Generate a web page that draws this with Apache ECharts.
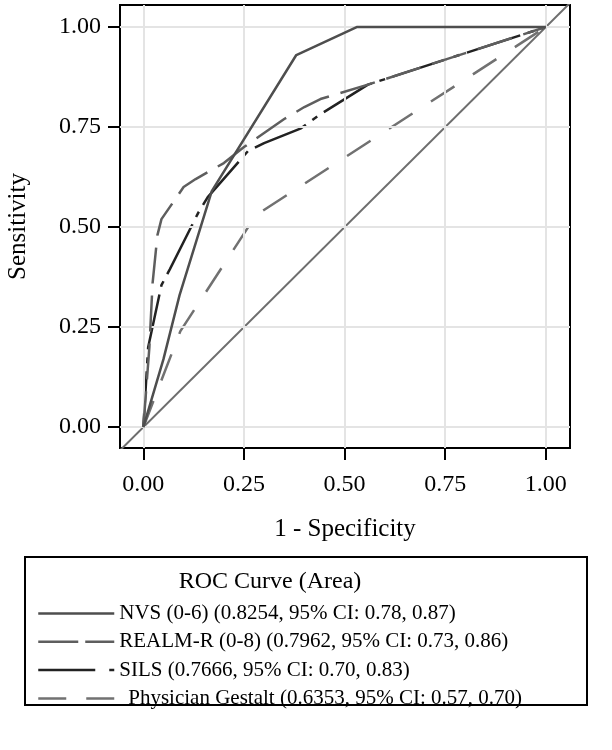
<!DOCTYPE html>
<html>
<head>
<meta charset="utf-8">
<script src="https://cdn.jsdelivr.net/npm/echarts@6/dist/echarts.min.js"></script>
<style>html,body{margin:0;padding:0;background:#fff}#c{width:612px;height:750px}</style>
</head>
<body>
<div id="c"></div>
<script>
var FONT = "'Liberation Serif','Times New Roman',serif";
var tickValues = [0, 0.25, 0.5, 0.75, 1];
var nvs = [[0,0],[0.05,0.17],[0.09,0.33],[0.17,0.59],[0.38,0.93],[0.53,1.0],[1,1]];
var realm = [[0,0],[0.015,0.2],[0.023,0.36],[0.035,0.48],[0.045,0.52],[0.1,0.6],[0.13,0.62],[0.2,0.66],[0.25,0.7],[0.35,0.77],[0.4,0.8],[0.44,0.82],[0.558,0.856],[1,1]];
var sils = [[0,0],[0.012,0.2],[0.045,0.355],[0.066,0.395],[0.136,0.535],[0.16,0.575],[0.26,0.69],[0.3,0.71],[0.39,0.746],[0.443,0.784],[0.558,0.856],[1,1]];
var gestalt = [[0,0],[0.092,0.24],[0.28,0.53],[1,1]];
var diagonal = [[-0.06,-0.06],[1.06,1.06]];
var names = ['NVS (0-6) (0.8254, 95% CI: 0.78, 0.87)','REALM-R (0-8) (0.7962, 95% CI: 0.73, 0.86)','SILS (0.7666, 95% CI: 0.70, 0.83)','Physician Gestalt (0.6353, 95% CI: 0.57, 0.70)'];
var colors = ['#4e4e4e','#5e5e5e','#222222','#717171'];
var dashes = ['solid',[36,12],[56,8,6,8],[28,22]];
var legendDashes = ['solid',[40,7],[57,14,5,20],[28,20]];

var chart = echarts.init(document.getElementById('c'));
var gridLines = [];
tickValues.forEach(function(v){ gridLines.push({xAxis:v}); gridLines.push({yAxis:v}); });

function axisCommon(){
  return {
    type:'value',
    axisLine:{show:true,onZero:false,lineStyle:{color:'#000',width:2}},
    axisTick:{show:true,length:12,lineStyle:{color:'#000',width:2},customValues:tickValues},
    axisLabel:{color:'#000',fontFamily:FONT,fontSize:24,customValues:tickValues,formatter:function(v){return v.toFixed(2);}},
    splitLine:{show:false},
    nameTextStyle:{color:'#000',fontFamily:FONT,fontSize:25}
  };
}
var xa = axisCommon();
xa.min=-0.058; xa.max=1.06; xa.name='1 - Specificity'; xa.nameLocation='middle'; xa.nameGap=69; xa.axisLabel.margin=25;
var ya = axisCommon();
ya.min=-0.052; ya.max=1.055; ya.name='Sensitivity'; ya.nameLocation='middle'; ya.nameGap=89; ya.axisLabel.margin=19;

function lineSeries(i,data,z){
  return {name:names[i],type:'line',data:data,symbol:'none',smooth:false,clip:true,z:z,
    lineStyle:{color:colors[i],width:2.5,type:dashes[i]},itemStyle:{color:colors[i]},emphasis:{disabled:true}};
}
var legendData = names.map(function(n,i){
  var d = {name:n,itemStyle:{opacity:0,borderWidth:0},lineStyle:{color:colors[i],width:2.5,type:legendDashes[i]}};
  if(i===3){ d.textStyle={padding:[0,0,0,9]}; }
  return d;
});

chart.setOption({
  animation:false,
  grid:{left:120,right:42,top:5,bottom:302,show:true,borderColor:'#000',borderWidth:2,backgroundColor:'#fff',outerBoundsMode:'none',containLabel:false},
  xAxis:xa,
  yAxis:ya,
  legend:{
    orient:'vertical',left:32,top:598,itemWidth:76,itemHeight:20,itemGap:7.3,
    textStyle:{color:'#000',fontFamily:FONT,fontSize:21,lineHeight:20},
    data:legendData,
    selectedMode:false
  },
  graphic:[
    {type:'rect',shape:{x:25,y:557,width:562,height:148},style:{fill:'none',stroke:'#000',lineWidth:2},z:0},
    {type:'text',x:270,y:582,style:{text:'ROC Curve (Area)',fontFamily:FONT,fontSize:24,fill:'#000',align:'center',verticalAlign:'middle'}}
  ],
  series:[
    {name:'_grid',type:'line',data:[],symbol:'none',z:1,silent:true,
      markLine:{silent:true,symbol:'none',label:{show:false},animation:false,lineStyle:{color:'#e4e4e4',width:2,type:'solid'},data:gridLines}},
    {name:'_diag',type:'line',data:diagonal,symbol:'none',z:2,clip:true,lineStyle:{color:'#6e6e6e',width:2},silent:true},
    lineSeries(3,gestalt,3),
    lineSeries(2,sils,4),
    lineSeries(1,realm,5),
    lineSeries(0,nvs,6)
  ]
});
</script>
</body>
</html>
